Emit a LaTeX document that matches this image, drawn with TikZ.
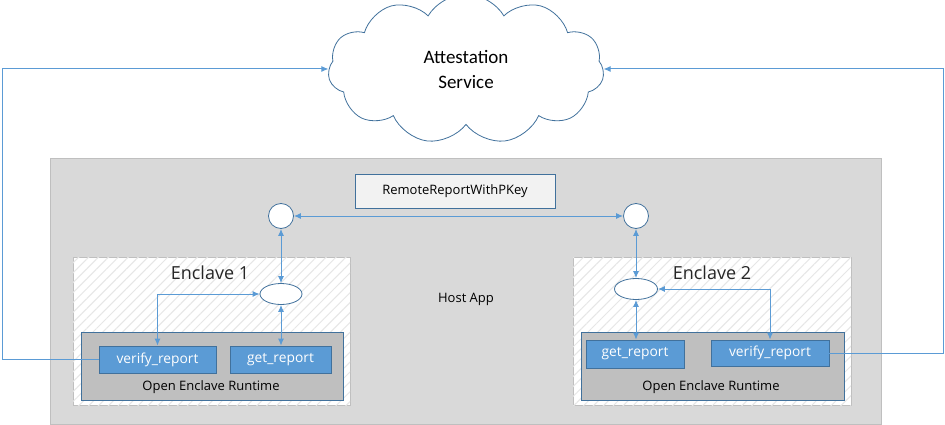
\documentclass[tikz,border=0pt]{standalone}
\usepackage{fontspec}
\setmainfont{Open Sans}
\newfontfamily\calib{Carlito}
\usetikzlibrary{shapes.geometric,shapes.symbols,arrows.meta,patterns.meta}
\definecolor{lineblue}{HTML}{5B9BD5}
\definecolor{darkblue}{HTML}{41719C}
\definecolor{hostgray}{HTML}{D9D9D9}
\definecolor{hostborder}{HTML}{BFBFBF}
\definecolor{rtgray}{HTML}{BFBFBF}
\definecolor{labelgray}{HTML}{F2F2F2}
\definecolor{hatch}{HTML}{E6E6E6}
\tikzset{
  conn/.style={draw=lineblue, line width=1pt},
  tip/.style={-{Latex[length=7pt,width=6pt]}},
  dtip/.style={{Latex[length=7pt,width=6pt]}-{Latex[length=7pt,width=6pt]}},
  funcbox/.style={draw=darkblue, fill=lineblue, line width=0.8pt, text=white, font=\fontsize{13.8}{16}\selectfont, inner sep=0pt, anchor=center},
  port/.style={draw=darkblue, fill=white, line width=0.8pt, inner sep=0pt},
  enclavebox/.style={draw=hostborder, line width=0.8pt, fill=white, postaction={pattern={Lines[angle=45,distance=7pt,line width=1pt]}, pattern color=hatch}},
  runtime/.style={draw=darkblue, fill=rtgray, line width=0.8pt},
}
\begin{document}
\begin{tikzpicture}[x=1pt,y=-1pt]
\useasboundingbox (0,0) rectangle (945,425);
% host app
\draw[draw=hostborder, fill=hostgray, line width=0.8pt] (50,158) rectangle (881,424);
\node[font=\fontsize{13}{15}\selectfont] (host) at (466,299) {Host App};
% cloud
\node[cloud, cloud puffs=11, cloud puff arc=120, aspect=1.9, draw=darkblue, fill=white, line width=0.8pt, minimum width=276pt, minimum height=150pt, align=center, font=\calib\fontsize{19}{25}\selectfont] (cloud) at (466,69) {Attestation\\Service};
% label box
\node[draw=darkblue, fill=labelgray, line width=0.8pt, minimum width=200pt, minimum height=34pt, inner sep=0pt, font=\fontsize{13}{15}\selectfont] (rr) at (455,191) {RemoteReportWithPKey};
% enclaves
\draw[enclavebox] (73,257) rectangle (350,405);
\draw[enclavebox] (573,257) rectangle (851,405);
\node[font=\fontsize{18}{20}\selectfont, text=black!85] (en1) at (210,273) {Enclave 1};
\node[font=\fontsize{18}{20}\selectfont, text=black!85] (en2) at (712,273) {Enclave 2};
% runtimes
\draw[runtime] (81,332) rectangle (343,400);
\draw[runtime] (581,332) rectangle (844,400);
\node[font=\fontsize{13}{15}\selectfont] (rt1) at (211,387) {Open Enclave Runtime};
\node[font=\fontsize{13}{15}\selectfont] (rt2) at (711,387) {Open Enclave Runtime};
% function boxes
\node[funcbox, minimum width=117pt, minimum height=27pt] (v1) at (157.5,359.5) {verify\_report};
\node[funcbox, minimum width=101pt, minimum height=27pt] (g1) at (280.5,359.5) {get\_report};
\node[funcbox, minimum width=98pt, minimum height=28pt] (g2) at (635,354) {get\_report};
\node[funcbox, minimum width=118pt, minimum height=26pt] (v2) at (770,353) {verify\_report};
% ports
\node[port, circle, minimum size=25pt] (c1) at (281,216) {};
\node[port, circle, minimum size=25pt] (c2) at (636,216) {};
\node[port, ellipse, minimum width=42pt, minimum height=21pt] (e1) at (281,294) {};
\node[port, ellipse, minimum width=43pt, minimum height=21pt] (e2) at (636,289) {};
% connectors
\draw[conn, dtip] (c1) -- (c2);
\draw[conn, dtip] (c1) -- (e1);
\draw[conn, dtip] (c2) -- (e2);
\draw[conn, dtip] (e1) -- (g1.north -| e1.south);
\draw[conn, dtip] (e2) -- (g2.north -| e2.south);
\draw[conn, dtip] (e1.west) -| (v1.north);
\draw[conn, dtip] (e2.east) -| (v2.north);
\coordinate (lc) at (2,359.5);
\coordinate (rc) at (943,353);
\draw[conn, tip] (v1.west) -- (lc) |- (cloud.west);
\draw[conn, tip] (v2.east) -- (rc) |- (cloud.east);
\end{tikzpicture}
\end{document}
